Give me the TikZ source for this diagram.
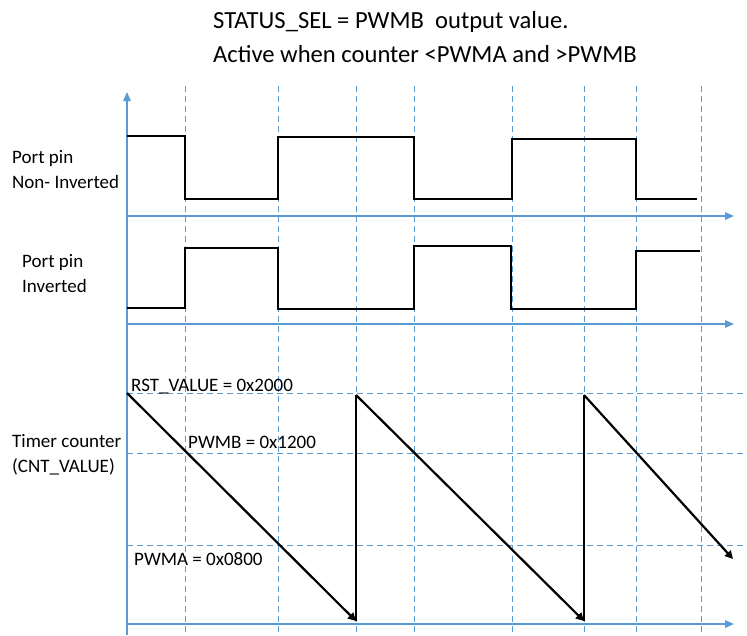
\documentclass[tikz,border=0pt]{standalone}
\usepackage{fontspec}
\setmainfont{Carlito}
\usetikzlibrary{arrows.meta}
\definecolor{axblue}{RGB}{91,155,213}
\begin{document}
\begin{tikzpicture}[x=1pt,y=-1pt,
  axis/.style={axblue,line width=1.5pt,-{Triangle[length=9pt,width=7.5pt]}},
  gridline/.style={axblue,line width=1pt,dash pattern=on 6pt off 4pt},
  sig/.style={black,line width=2.5pt,line join=miter},
  ramp/.style={black,line width=2.2pt,-{Triangle[length=8pt,width=8pt]}},
  vert/.style={black,line width=2.2pt},
  lbl/.style={font=\fontsize{19}{24}\selectfont,anchor=base west,inner sep=0pt},
  ttl/.style={font=\fontsize{24.6}{30}\selectfont,anchor=base west,inner sep=0pt}]
\useasboundingbox (0,0) rectangle (747,635);
\fill[white] (0,0) rectangle (747,635);

% title
\node[ttl] (t1) at (213,28) {STATUS\_SEL = PWMB\ \ output value.};
\node[ttl] (t2) at (213,62) {Active when counter <PWMA and >PWMB};

% dashed vertical grid
\foreach \x in {185,278,356,414,512,584,636,701}
  \draw[gridline] (\x,86) -- (\x,635);
% dashed horizontal levels
\foreach \y in {393,453,545}
  \draw[gridline] (127,\y) -- (746,\y);

% axes
\coordinate (o) at (127,635);
\coordinate (ytop) at (127,92);
\draw[axis] (o) -- (ytop);
\foreach \y/\n in {216/a1,324/a2,624/a3}{
  \coordinate (\n s) at (127,\y);
  \coordinate (\n e) at (734,\y);
  \draw[axis] (\n s) -- (\n e);
}

% non-inverted
\draw[sig] (127,136) -- (185,136) -- (185,199) -- (278,199) -- (278,137) -- (414,137)
  -- (414,199) -- (512,199) -- (512,139) -- (636,139) -- (636,199) -- (697,199);
% inverted
\draw[sig] (127,308) -- (185,308) -- (185,248) -- (278,248) -- (278,309) -- (414,309)
  -- (414,246) -- (511,246) -- (511,309) -- (636,309) -- (636,251) -- (700,251);

% sawtooth
\coordinate (r0) at (127,393);
\coordinate (b1) at (356,621);
\coordinate (r1) at (356,395);
\coordinate (b2) at (584,621);
\coordinate (r2) at (584,395);
\coordinate (e3) at (733,559);
\draw[vert] (b1) -- (r1);
\draw[vert] (b2) -- (r2);
\draw[ramp] (r0) -- (b1);
\draw[ramp] (r1) -- (b2);
\draw[ramp] (r2) -- (e3);

% labels
\node[lbl] (l1) at (12,163) {Port pin};
\node[lbl] (l2) at (12,188) {Non- Inverted};
\node[lbl] (l3) at (22,267) {Port pin};
\node[lbl] (l4) at (22,292) {Inverted};
\node[lbl] (l5) at (12,447) {Timer counter};
\node[lbl] (l6) at (12,472) {(CNT\_VALUE)};
\node[lbl] (v1) at (131,391) {RST\_VALUE = 0x2000};
\node[lbl] (v2) at (188,448) {PWMB = 0x1200};
\node[lbl] (v3) at (134,565) {PWMA = 0x0800};
\end{tikzpicture}
\end{document}
